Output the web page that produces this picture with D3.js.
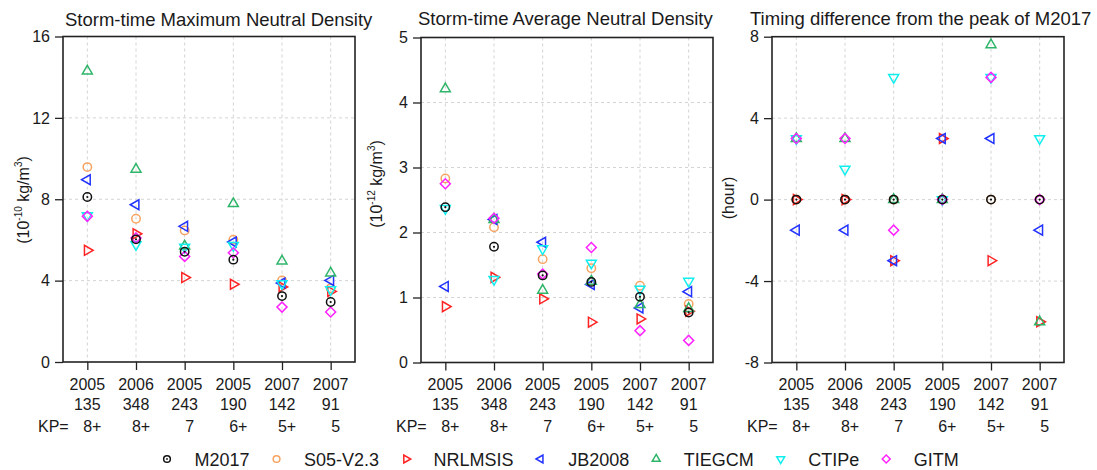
<!DOCTYPE html>
<html>
<head>
<meta charset="utf-8">
<script src="https://cdn.jsdelivr.net/npm/d3@7"></script>
<style>
  html, body { margin: 0; padding: 0; background: #fff; }
  svg { display: block; font-family: "Liberation Sans", Arial, sans-serif; }
</style>
</head>
<body>
<svg id="chart" width="1097" height="470"></svg>
<script>
// ---------------- data ----------------
const years = ["2005", "2006", "2005", "2005", "2007", "2007"];
const doys  = ["135", "348", "243", "190", "142", "91"];
const kps   = ["8+", "8+", "7", "6+", "5+", "5"];
const models = ["M2017", "S05-V2.3", "NRLMSIS", "JB2008", "TIEGCM", "CTIPe", "GITM"];

// Storm-time maximum neutral density (1e-10 kg/m^3)
const maxM2017   = [8.11, 6.03, 5.42, 5.03, 3.24, 2.95];
const maxS05     = [9.58, 7.04, 6.47, 6.01, 4.01, 3.62];
const maxNRLMSIS = [5.49, 6.30, 4.15, 3.82, 3.69, 3.47];
const maxJB2008  = [8.96, 7.73, 6.67, 5.90, 3.88, 4.01];
const maxTIEGCM  = [14.30, 9.47, 5.70, 7.78, 4.96, 4.37];
const maxCTIPe   = [7.20, 5.77, 5.65, 5.73, 3.85, 3.56];
const maxGITM    = [7.16, 6.10, 5.19, 5.37, 2.70, 2.46];

// Storm-time average neutral density (1e-12 kg/m^3)
const avgM2017   = [2.39, 1.78, 1.34, 1.24, 1.01, 0.77];
const avgS05     = [2.83, 2.08, 1.59, 1.45, 1.18, 0.90];
const avgNRLMSIS = [0.86, 1.31, 0.98, 0.62, 0.67, 0.79];
const avgJB2008  = [1.17, 2.20, 1.85, 1.20, 0.84, 1.09];
const avgTIEGCM  = [4.21, 2.20, 1.11, 1.25, 0.89, 0.83];
const avgCTIPe   = [2.37, 1.28, 1.75, 1.53, 1.13, 1.25];
const avgGITM    = [2.75, 2.22, 1.36, 1.77, 0.49, 0.34];

// Timing difference from the peak of M2017 (hour)
const dtM2017   = [0, 0, 0, 0, 0, 0];
const dtS05     = [0, 0, 0, 0, 0, 0];
const dtNRLMSIS = [0, 0, -3, 3, -3, -6];
const dtJB2008  = [-1.5, -1.5, -3, 3, 3, -1.5];
const dtTIEGCM  = [3, 3, 0, 0, 7.6, -6];
const dtCTIPe   = [3, 1.5, 6, 0, 6, 3];
const dtGITM    = [3, 3, -1.5, 0, 6, 0];

const panelTitles = ["Storm-time Maximum Neutral Density", "Storm-time Average Neutral Density", "Timing difference from the peak of M2017"];
const yTicks1 = [0, 4, 8, 12, 16];
const yTicks2 = [0, 1, 2, 3, 4, 5];
const yTicks3 = [-8, -4, 0, 4, 8];

// ---------------- styles ----------------
const colors = {
  "M2017": "#111111", "S05-V2.3": "#f7a462", "NRLMSIS": "#ff2222", "JB2008": "#2233ff",
  "TIEGCM": "#2fb56a", "CTIPe": "#11eeee", "GITM": "#ff22ff"
};
const textColor = "#1a1a1a";

const svg = d3.select("#chart");

function markerPath(model, scale) {
  const s = scale || 1;
  switch (model) {
    case "M2017":
    case "S05-V2.3":
      return { d: d3.symbol(d3.symbolCircle, Math.PI * Math.pow(4.2 * s, 2))(), rot: 0 };
    case "NRLMSIS":
      return { d: d3.symbol(d3.symbolTriangle, 43 * s * s)(), rot: 90 };
    case "JB2008":
      return { d: d3.symbol(d3.symbolTriangle, 43 * s * s)(), rot: -90 };
    case "TIEGCM":
      return { d: d3.symbol(d3.symbolTriangle, 43 * s * s)(), rot: 0 };
    case "CTIPe":
      return { d: d3.symbol(d3.symbolTriangle, 43 * s * s)(), rot: 180 };
    case "GITM":
      return { d: d3.symbol(d3.symbolSquare, 50 * s * s)(), rot: 45 };
  }
}

function drawMarker(g, model, x, y, scale) {
  const m = markerPath(model, scale);
  g.append("path")
    .attr("d", m.d)
    .attr("transform", `translate(${x},${y}) rotate(${m.rot})`)
    .attr("fill", "none")
    .attr("stroke", colors[model])
    .attr("stroke-width", 1.5);
  if (model === "M2017") {
    g.append("circle").attr("cx", x).attr("cy", y).attr("r", 1.1 * (scale || 1))
      .attr("fill", colors[model]);
  }
}

// draw order: M2017 last
const drawOrder = ["S05-V2.3", "NRLMSIS", "JB2008", "TIEGCM", "CTIPe", "GITM", "M2017"];

const panels = [
  { left: 63, right: 355, top: 36.5, bottom: 362, domain: [0, 16], ticks: yTicks1,
    series: { "M2017": maxM2017, "S05-V2.3": maxS05, "NRLMSIS": maxNRLMSIS, "JB2008": maxJB2008, "TIEGCM": maxTIEGCM, "CTIPe": maxCTIPe, "GITM": maxGITM },
    titleX: 65, titleY: 25.5, ylabel: "e10", ylabelX: 29, ylabelY: 200 },
  { left: 421, right: 713, top: 37.5, bottom: 362.5, domain: [0, 5], ticks: yTicks2,
    series: { "M2017": avgM2017, "S05-V2.3": avgS05, "NRLMSIS": avgNRLMSIS, "JB2008": avgJB2008, "TIEGCM": avgTIEGCM, "CTIPe": avgCTIPe, "GITM": avgGITM },
    titleX: 418, titleY: 25, ylabel: "e12", ylabelX: 382, ylabelY: 184 },
  { left: 772, right: 1064, top: 36.7, bottom: 362.5, domain: [-8, 8], ticks: yTicks3,
    series: { "M2017": dtM2017, "S05-V2.3": dtS05, "NRLMSIS": dtNRLMSIS, "JB2008": dtJB2008, "TIEGCM": dtTIEGCM, "CTIPe": dtCTIPe, "GITM": dtGITM },
    titleX: 750, titleY: 24.5, ylabel: "hour", ylabelX: 733.5, ylabelY: 198 }
];

panels.forEach((p, pi) => {
  const g = svg.append("g");
  const idx = d3.range(years.length);
  const x = d3.scalePoint().domain(idx).range([p.left, p.right]).padding(0.5);
  const y = d3.scaleLinear().domain(p.domain).range([p.bottom, p.top]);

  // grid
  const grid = g.append("g").attr("stroke", "#d4d4d4").attr("stroke-width", 1).attr("stroke-dasharray", "3,3");
  grid.selectAll("line.v").data(idx).enter().append("line")
    .attr("x1", d => x(d)).attr("x2", d => x(d)).attr("y1", p.top).attr("y2", p.bottom);
  grid.selectAll("line.h").data(p.ticks.filter(t => t !== p.domain[0] && t !== p.domain[1])).enter().append("line")
    .attr("x1", p.left).attr("x2", p.right).attr("y1", d => y(d)).attr("y2", d => y(d));

  // y axis
  const yAxis = d3.axisLeft(y).tickValues(p.ticks).tickSize(8).tickPadding(5).tickFormat(d => String(d));
  const ya = g.append("g").attr("transform", `translate(${p.left},0)`).call(yAxis);
  ya.select(".domain").remove();
  ya.selectAll("line").attr("stroke", "#222").attr("stroke-width", 1.3);
  ya.selectAll("text").attr("font-size", 16).attr("fill", textColor)
    .attr("font-family", "Liberation Sans, Arial, sans-serif");

  // x axis ticks
  const xAxis = d3.axisBottom(x).tickSize(8).tickFormat("");
  const xa = g.append("g").attr("transform", `translate(0,${p.bottom})`).call(xAxis);
  xa.select(".domain").remove();
  xa.selectAll("line").attr("stroke", "#222").attr("stroke-width", 1.3);

  // x labels
  const lab = g.append("g").attr("font-size", 16).attr("fill", textColor).attr("text-anchor", "middle");
  lab.selectAll("text.yr").data(idx).enter().append("text")
    .attr("x", d => x(d)).attr("y", 389.5).text(d => years[d]);
  lab.selectAll("text.doy").data(idx).enter().append("text")
    .attr("x", d => x(d)).attr("y", 409.5).text(d => doys[d]);
  lab.selectAll("text.kp").data(idx).enter().append("text")
    .attr("x", d => x(d) + 5).attr("y", 431.5).text(d => kps[d]);
  g.append("text").attr("x", p.left - 25).attr("y", 431.5).attr("font-size", 16)
    .attr("fill", textColor).text("KP=");

  // points
  const pts = g.append("g");
  drawOrder.forEach(m => {
    p.series[m].forEach((v, i) => drawMarker(pts, m, x(i), y(v), 1));
  });

  // frame
  g.append("rect").attr("x", p.left).attr("y", p.top)
    .attr("width", p.right - p.left).attr("height", p.bottom - p.top)
    .attr("fill", "none").attr("stroke", "#222").attr("stroke-width", 1.6);

  // title
  g.append("text").attr("x", p.titleX).attr("y", p.titleY).attr("font-size", 18.5)
    .attr("fill", textColor).text(panelTitles[pi]);

  // y label
  const yl = g.append("text")
    .attr("transform", `translate(${p.ylabelX},${p.ylabelY}) rotate(-90)`)
    .attr("text-anchor", "middle").attr("font-size", 16).attr("fill", textColor);
  if (p.ylabel === "hour") {
    yl.text("(hour)");
  } else {
    const ex = p.ylabel === "e10" ? "-10" : "-12";
    yl.append("tspan").text("(10");
    yl.append("tspan").attr("font-size", 10).attr("dy", -7).text(ex);
    yl.append("tspan").attr("dy", 7).text(" kg/m");
    yl.append("tspan").attr("font-size", 10).attr("dy", -7).text("3");
    yl.append("tspan").attr("dy", 7).text(")");
  }
});

// legend
const leg = svg.append("g").attr("font-size", 18).attr("fill", textColor);
let lx = 167;
models.forEach(m => {
  drawMarker(leg, m, lx, 459, 0.8);
  const t = leg.append("text").attr("x", lx + 27.5).attr("y", 466).text(m);
  const w = t.node().getComputedTextLength();
  lx = lx + 27.5 + w + 27;
});
</script>
</body>
</html>
